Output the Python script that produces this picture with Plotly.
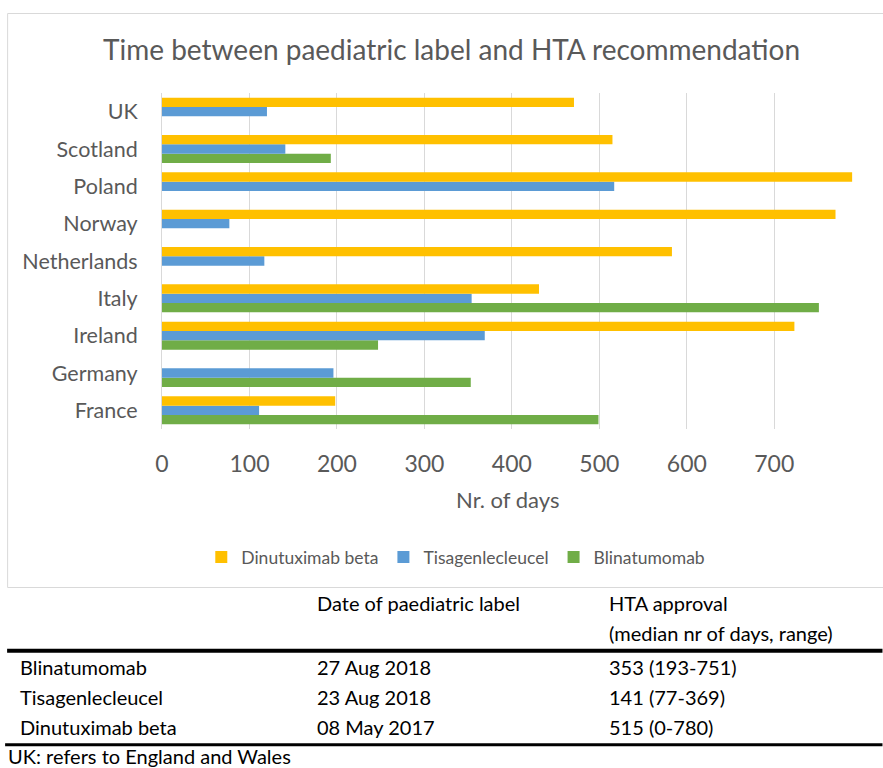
import plotly.graph_objects as go

countries = ["France", "Germany", "Ireland", "Italy", "Netherlands", "Norway", "Poland", "Scotland", "UK"]
blinatumomab = [499, 353, 247, 751, None, None, None, 193, None]
tisagenlecleucel = [111, 196, 369, 354, 117, 77, 517, 141, 120]
dinutuximab = [198, None, 723, 431, 583, 770, 789, 515, 471]

x_ticks = [0, 100, 200, 300, 400, 500, 600, 700]

table_header = ["", "Date of paediatric label", "HTA approval"]
table_header2 = ["", "", "(median nr of days, range)"]
table_drugs = ["Blinatumomab", "Tisagenlecleucel", "Dinutuximab beta"]
table_dates = ["27 Aug 2018", "23 Aug 2018", "08 May 2017"]
table_hta = ["353 (193-751)", "141 (77-369)", "515 (0-780)"]
footnote = "UK: refers to England and Wales"

W, H = 883, 768
L, R, T, B = 162, 853.5, 93, 429
GREY = "#595959"
FONT = "Lato"


def px(xp):
    return (xp - L) / (R - L)


def py(yp):
    return (B - yp) / (B - T)


fig = go.Figure()
fig.add_trace(go.Bar(y=countries, x=blinatumomab, name="Blinatumomab", orientation="h",
                     marker=dict(color="#70AD47", line=dict(width=0))))
fig.add_trace(go.Bar(y=countries, x=tisagenlecleucel, name="Tisagenlecleucel", orientation="h",
                     marker=dict(color="#5B9BD5", line=dict(width=0))))
fig.add_trace(go.Bar(y=countries, x=dinutuximab, name="Dinutuximab beta", orientation="h",
                     marker=dict(color="#FFC000", line=dict(width=0))))

annotations = [
    dict(text="Time between paediatric label and HTA recommendation", x=px(452), y=py(49),
         xref="paper", yref="paper", showarrow=False, xanchor="center", yanchor="middle",
         font=dict(family=FONT, size=28, color=GREY)),
    dict(text="Nr. of days", x=px(507.6), y=py(499), xref="paper", yref="paper",
         showarrow=False, xanchor="center", yanchor="middle",
         font=dict(family=FONT, size=22, color=GREY)),
]

tfont = dict(family=FONT, size=20, color="#000000")
col_x = [18, 315, 607]
for i, t in enumerate(table_header):
    if t:
        annotations.append(dict(text=t, x=px(col_x[i]), y=py(603), xref="paper", yref="paper",
                                showarrow=False, xanchor="left", yanchor="middle", font=tfont))
for i, t in enumerate(table_header2):
    if t:
        annotations.append(dict(text=t, x=px(col_x[i]), y=py(633), xref="paper", yref="paper",
                                showarrow=False, xanchor="left", yanchor="middle", font=tfont))
row_y = [666.7, 697, 726.7]
for r in range(3):
    for c, col in enumerate([table_drugs, table_dates, table_hta]):
        annotations.append(dict(text=col[r], x=px(col_x[c]), y=py(row_y[r]), xref="paper", yref="paper",
                                showarrow=False, xanchor="left", yanchor="middle", font=tfont))
annotations.append(dict(text=footnote, x=px(6), y=py(755.5), xref="paper", yref="paper",
                        showarrow=False, xanchor="left", yanchor="middle", font=tfont))

shapes = [
    dict(type="rect", xref="paper", yref="paper", x0=px(7.5), x1=px(892), y0=py(13.5), y1=py(587.5),
         line=dict(color="#D9D9D9", width=1), fillcolor="rgba(0,0,0,0)", layer="below"),
    dict(type="line", xref="paper", yref="paper", x0=px(7), x1=px(883), y0=py(650.7), y1=py(650.7),
         line=dict(color="#000000", width=4)),
    dict(type="line", xref="paper", yref="paper", x0=px(5), x1=px(883), y0=py(744.7), y1=py(744.7),
         line=dict(color="#000000", width=3)),
]

fig.update_layout(
    width=W, height=H,
    margin=dict(l=L, r=W - R, t=T, b=H - B, pad=0),
    paper_bgcolor="white", plot_bgcolor="white",
    barmode="group", bargap=0.25, bargroupgap=0,
    showlegend=True,
    legend=dict(orientation="h", traceorder="reversed", x=px(456), y=py(557),
                xanchor="center", yanchor="middle",
                font=dict(family=FONT, size=17.5, color=GREY), itemwidth=30,
                bgcolor="rgba(0,0,0,0)"),
    annotations=annotations,
    shapes=shapes,
    xaxis=dict(range=[0, 790], tickvals=x_ticks, showgrid=True, gridcolor="#D9D9D9", gridwidth=1,
               zeroline=False, showline=False, ticks="",
               tickfont=dict(family=FONT, size=23, color=GREY), ticklabelstandoff=19),
    yaxis=dict(type="category", categoryorder="array", categoryarray=countries,
               showgrid=False, zeroline=False, showline=True, linecolor="#D9D9D9", linewidth=1,
               ticks="", tickfont=dict(family=FONT, size=21.5, color=GREY), ticklabelstandoff=19),
)

fig.write_html("out.html", config={"displayModeBar": False},
               post_script="document.body.style.margin='0';document.body.style.overflow='hidden';")
